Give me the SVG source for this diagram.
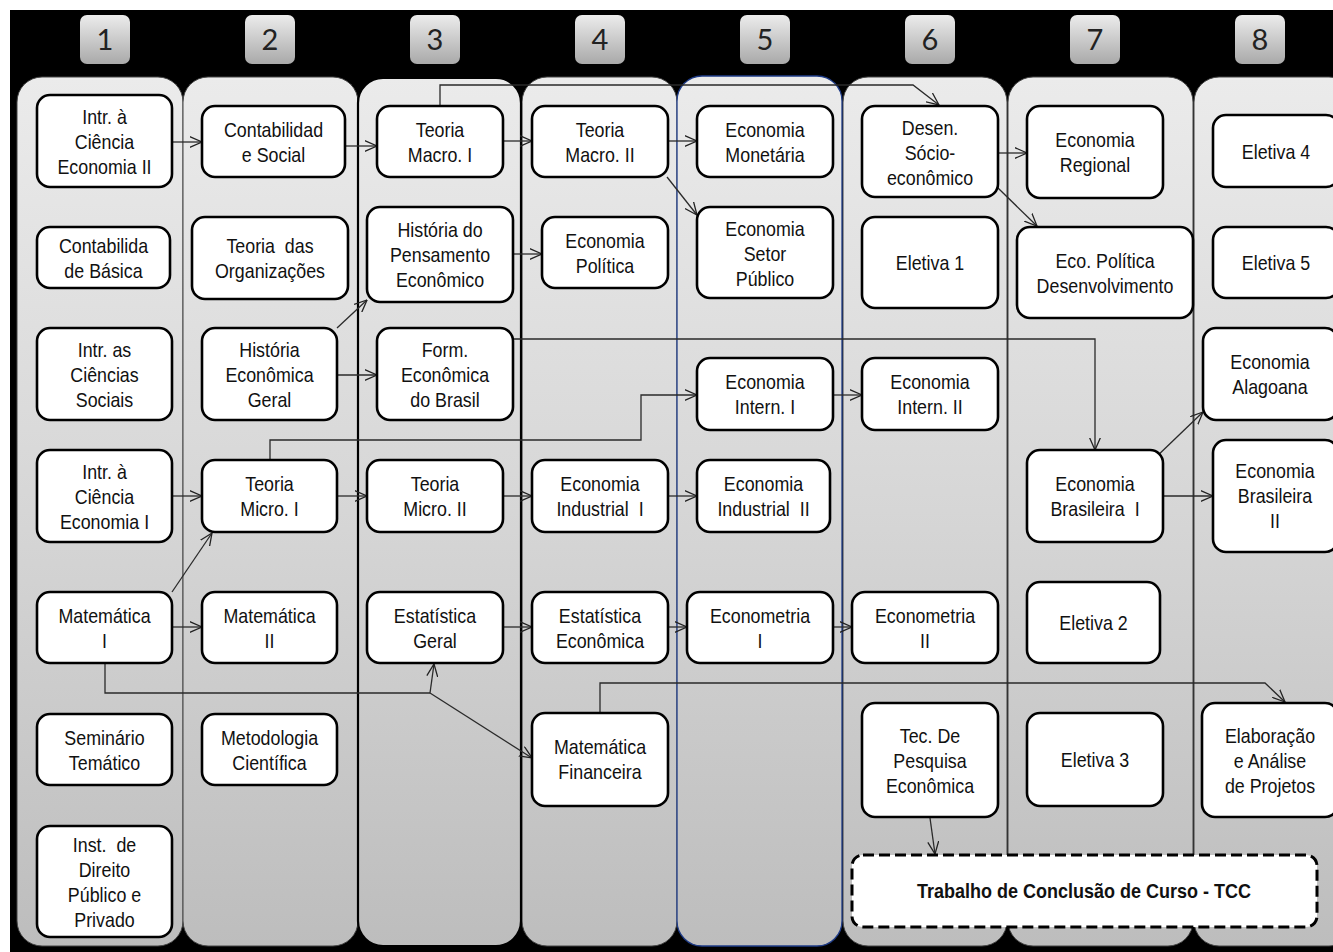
<svg xmlns="http://www.w3.org/2000/svg" width="1333" height="952" viewBox="0 0 1333 952">
<defs>
<linearGradient id="gPanel" x1="0" y1="0" x2="0" y2="1">
<stop offset="0" stop-color="#ebebeb"/>
<stop offset="0.5" stop-color="#d6d6d6"/>
<stop offset="1" stop-color="#bdbdbd"/>
</linearGradient>
<linearGradient id="gTab" x1="0" y1="0" x2="0" y2="1">
<stop offset="0" stop-color="#ececec"/>
<stop offset="1" stop-color="#a9a9a9"/>
</linearGradient>
<marker id="arr" markerUnits="userSpaceOnUse" viewBox="0 0 13 12" refX="12.5" refY="6" markerWidth="13" markerHeight="12" orient="auto">
<path d="M0,0.5 L12.5,6 L0,11.5" fill="none" stroke="#222" stroke-width="1.3"/>
</marker>
</defs>
<style>
.panel{fill:url(#gPanel);stroke:#444;stroke-width:1}
.p3{stroke:#000;stroke-width:2.2}
.p5{stroke:#1f3c88;stroke-width:1.3}
.tab{fill:url(#gTab)}
.tabt{font-family:Lato,"Open Sans",sans-serif;font-size:29px;fill:#222;text-anchor:middle}
.box{fill:#fff;stroke:#000;stroke-width:2.6}
.t{font-family:"Liberation Sans",Arial,sans-serif;font-size:21px;fill:#111;text-anchor:middle}
.tcc{fill:#fff;stroke:#000;stroke-width:3;stroke-dasharray:11 5}
.tb{font-family:"Liberation Sans",Arial,sans-serif;font-size:20px;font-weight:bold;fill:#111;text-anchor:middle}
.c{fill:none;stroke:#2a2a2a;stroke-width:1.3}
.ca{fill:none;stroke:#2a2a2a;stroke-width:1.3;marker-end:url(#arr)}
</style>
<rect x="0" y="0" width="1333" height="952" fill="#fff"/>
<rect x="10" y="10" width="1323" height="942" fill="#000"/>
<g id="tabs">
<rect class="tab" x="80" y="15" width="50" height="49" rx="7"/><text class="tabt" x="105" y="50">1</text>
<rect class="tab" x="245" y="15" width="50" height="49" rx="7"/><text class="tabt" x="270" y="50">2</text>
<rect class="tab" x="410" y="15" width="50" height="49" rx="7"/><text class="tabt" x="435" y="50">3</text>
<rect class="tab" x="575" y="15" width="50" height="49" rx="7"/><text class="tabt" x="600" y="50">4</text>
<rect class="tab" x="740" y="15" width="50" height="49" rx="7"/><text class="tabt" x="765" y="50">5</text>
<rect class="tab" x="905" y="15" width="50" height="49" rx="7"/><text class="tabt" x="930" y="50">6</text>
<rect class="tab" x="1070" y="15" width="50" height="49" rx="7"/><text class="tabt" x="1095" y="50">7</text>
<rect class="tab" x="1235" y="15" width="50" height="49" rx="7"/><text class="tabt" x="1260" y="50">8</text>
</g>
<g id="panels">
<rect class="panel" x="17" y="77" width="166" height="869" rx="25"/>
<rect class="panel" x="183" y="77" width="175" height="869" rx="25"/>
<rect class="panel" x="1008" y="77" width="185" height="869" rx="25"/>
<rect class="panel" x="1194" y="77" width="160" height="869" rx="25"/>
<rect class="panel" x="843" y="77" width="164" height="869" rx="25"/>
<rect class="panel" x="522" y="77" width="155" height="869" rx="25"/>
<rect class="panel p5" x="677" y="76" width="165" height="870" rx="25"/>
<rect class="panel p3" x="358" y="78" width="163" height="868" rx="25"/>
</g>
<g id="connectors">
<path class="ca" d="M172,142 L202,142"/>
<path class="ca" d="M345,146 L377,146"/>
<path class="ca" d="M503,141 L532,141"/>
<path class="ca" d="M668,141 L697,141"/>
<path class="ca" d="M667,177 L697,215"/>
<path class="ca" d="M440,106 L440,85 L913,85 L939,105"/>
<path class="ca" d="M998,153 L1027,153"/>
<path class="ca" d="M998,188 L1037,226"/>
<path class="ca" d="M513,254 L542,254"/>
<path class="ca" d="M337,328 L367,300"/>
<path class="ca" d="M337,375 L377,375"/>
<path class="ca" d="M513,339 L1095,339 L1095,450"/>
<path class="ca" d="M270,460 L270,440 L641,440 L641,395 L697,395"/>
<path class="ca" d="M833,395 L862,395"/>
<path class="ca" d="M172,496 L202,496"/>
<path class="ca" d="M172,592 L212,533"/>
<path class="ca" d="M337,496 L367,496"/>
<path class="ca" d="M503,496 L532,496"/>
<path class="ca" d="M668,496 L697,496"/>
<path class="ca" d="M1153,460 L1203,412"/>
<path class="ca" d="M1163,496 L1213,496"/>
<path class="ca" d="M172,627 L202,627"/>
<path class="ca" d="M503,627 L532,627"/>
<path class="ca" d="M668,627 L687,627"/>
<path class="ca" d="M833,627 L852,627"/>
<path class="c" d="M105,663 L105,693 L430,693"/>
<path class="ca" d="M430,693 L434,664"/>
<path class="ca" d="M430,693 L532,758"/>
<path class="ca" d="M600,713 L600,683 L1265,683 L1285,702"/>
<path class="ca" d="M930,818 L935,854"/>
</g>
<g id="n_intr_cien_eco2"><rect class="box" x="37" y="95" width="135" height="92" rx="13"/><g transform="translate(104.5,0) scale(0.85,1)"><text class="t" y="124">Intr. à</text><text class="t" y="149">Ciência</text><text class="t" y="174">Economia II</text></g></g>
<g id="n_contab_basica"><rect class="box" x="37" y="227" width="133" height="61" rx="13"/><g transform="translate(103.5,0) scale(0.85,1)"><text class="t" y="253">Contabilida</text><text class="t" y="278">de Básica</text></g></g>
<g id="n_intr_cien_sociais"><rect class="box" x="37" y="328" width="135" height="92" rx="13"/><g transform="translate(104.5,0) scale(0.85,1)"><text class="t" y="357">Intr. as</text><text class="t" y="382">Ciências</text><text class="t" y="407">Sociais</text></g></g>
<g id="n_intr_cien_eco1"><rect class="box" x="37" y="450" width="135" height="92" rx="13"/><g transform="translate(104.5,0) scale(0.85,1)"><text class="t" y="479">Intr. à</text><text class="t" y="504">Ciência</text><text class="t" y="529">Economia I</text></g></g>
<g id="n_mat1"><rect class="box" x="37" y="592" width="135" height="71" rx="13"/><g transform="translate(104.5,0) scale(0.85,1)"><text class="t" y="623">Matemática</text><text class="t" y="648">I</text></g></g>
<g id="n_seminario"><rect class="box" x="37" y="714" width="135" height="71" rx="13"/><g transform="translate(104.5,0) scale(0.85,1)"><text class="t" y="745">Seminário</text><text class="t" y="770">Temático</text></g></g>
<g id="n_inst_direito"><rect class="box" x="37" y="826" width="135" height="111" rx="13"/><g transform="translate(104.5,0) scale(0.85,1)"><text class="t" y="852" xml:space="preserve">Inst.  de</text><text class="t" y="877">Direito</text><text class="t" y="902">Público e</text><text class="t" y="927">Privado</text></g></g>
<g id="n_contab_social"><rect class="box" x="202" y="106" width="143" height="71" rx="13"/><g transform="translate(273.5,0) scale(0.85,1)"><text class="t" y="137">Contabilidad</text><text class="t" y="162">e Social</text></g></g>
<g id="n_teoria_org"><rect class="box" x="192" y="217" width="156" height="82" rx="13"/><g transform="translate(270,0) scale(0.85,1)"><text class="t" y="253" xml:space="preserve">Teoria  das</text><text class="t" y="278">Organizações</text></g></g>
<g id="n_hist_eco_geral"><rect class="box" x="202" y="328" width="135" height="92" rx="13"/><g transform="translate(269.5,0) scale(0.85,1)"><text class="t" y="357">História</text><text class="t" y="382">Econômica</text><text class="t" y="407">Geral</text></g></g>
<g id="n_micro1"><rect class="box" x="202" y="460" width="135" height="72" rx="13"/><g transform="translate(269.5,0) scale(0.85,1)"><text class="t" y="491">Teoria</text><text class="t" y="516">Micro. I</text></g></g>
<g id="n_mat2"><rect class="box" x="202" y="592" width="135" height="71" rx="13"/><g transform="translate(269.5,0) scale(0.85,1)"><text class="t" y="623">Matemática</text><text class="t" y="648">II</text></g></g>
<g id="n_metodologia"><rect class="box" x="202" y="714" width="135" height="71" rx="13"/><g transform="translate(269.5,0) scale(0.85,1)"><text class="t" y="745">Metodologia</text><text class="t" y="770">Científica</text></g></g>
<g id="n_macro1"><rect class="box" x="377" y="106" width="126" height="71" rx="13"/><g transform="translate(440,0) scale(0.85,1)"><text class="t" y="137">Teoria</text><text class="t" y="162">Macro. I</text></g></g>
<g id="n_hist_pens"><rect class="box" x="367" y="207" width="146" height="95" rx="13"/><g transform="translate(440,0) scale(0.85,1)"><text class="t" y="237">História do</text><text class="t" y="262">Pensamento</text><text class="t" y="287">Econômico</text></g></g>
<g id="n_form_eco"><rect class="box" x="377" y="328" width="136" height="92" rx="13"/><g transform="translate(445,0) scale(0.85,1)"><text class="t" y="357">Form.</text><text class="t" y="382">Econômica</text><text class="t" y="407">do Brasil</text></g></g>
<g id="n_micro2"><rect class="box" x="367" y="460" width="136" height="72" rx="13"/><g transform="translate(435,0) scale(0.85,1)"><text class="t" y="491">Teoria</text><text class="t" y="516">Micro. II</text></g></g>
<g id="n_estat_geral"><rect class="box" x="367" y="592" width="136" height="71" rx="13"/><g transform="translate(435,0) scale(0.85,1)"><text class="t" y="623">Estatística</text><text class="t" y="648">Geral</text></g></g>
<g id="n_macro2"><rect class="box" x="532" y="106" width="136" height="71" rx="13"/><g transform="translate(600,0) scale(0.85,1)"><text class="t" y="137">Teoria</text><text class="t" y="162">Macro. II</text></g></g>
<g id="n_eco_politica"><rect class="box" x="542" y="217" width="126" height="71" rx="13"/><g transform="translate(605,0) scale(0.85,1)"><text class="t" y="248">Economia</text><text class="t" y="273">Política</text></g></g>
<g id="n_eco_ind1"><rect class="box" x="532" y="460" width="136" height="72" rx="13"/><g transform="translate(600,0) scale(0.85,1)"><text class="t" y="491">Economia</text><text class="t" y="516" xml:space="preserve">Industrial  I</text></g></g>
<g id="n_estat_eco"><rect class="box" x="532" y="592" width="136" height="71" rx="13"/><g transform="translate(600,0) scale(0.85,1)"><text class="t" y="623">Estatística</text><text class="t" y="648">Econômica</text></g></g>
<g id="n_mat_fin"><rect class="box" x="532" y="713" width="136" height="93" rx="13"/><g transform="translate(600,0) scale(0.85,1)"><text class="t" y="754">Matemática</text><text class="t" y="779">Financeira</text></g></g>
<g id="n_eco_monetaria"><rect class="box" x="697" y="106" width="136" height="71" rx="13"/><g transform="translate(765,0) scale(0.85,1)"><text class="t" y="137">Economia</text><text class="t" y="162">Monetária</text></g></g>
<g id="n_eco_setor_pub"><rect class="box" x="697" y="207" width="136" height="91" rx="13"/><g transform="translate(765,0) scale(0.85,1)"><text class="t" y="236">Economia</text><text class="t" y="261">Setor</text><text class="t" y="286">Público</text></g></g>
<g id="n_eco_intern1"><rect class="box" x="697" y="358" width="136" height="72" rx="13"/><g transform="translate(765,0) scale(0.85,1)"><text class="t" y="389">Economia</text><text class="t" y="414">Intern. I</text></g></g>
<g id="n_eco_ind2"><rect class="box" x="697" y="460" width="133" height="72" rx="13"/><g transform="translate(763.5,0) scale(0.85,1)"><text class="t" y="491">Economia</text><text class="t" y="516" xml:space="preserve">Industrial  II</text></g></g>
<g id="n_econometria1"><rect class="box" x="687" y="592" width="146" height="71" rx="13"/><g transform="translate(760,0) scale(0.85,1)"><text class="t" y="623">Econometria</text><text class="t" y="648">I</text></g></g>
<g id="n_desen"><rect class="box" x="862" y="106" width="136" height="91" rx="13"/><g transform="translate(930,0) scale(0.85,1)"><text class="t" y="135">Desen.</text><text class="t" y="160">Sócio-</text><text class="t" y="185">econômico</text></g></g>
<g id="n_eletiva1"><rect class="box" x="862" y="217" width="136" height="91" rx="13"/><g transform="translate(930,0) scale(0.85,1)"><text class="t" y="270">Eletiva 1</text></g></g>
<g id="n_eco_intern2"><rect class="box" x="862" y="358" width="136" height="72" rx="13"/><g transform="translate(930,0) scale(0.85,1)"><text class="t" y="389">Economia</text><text class="t" y="414">Intern. II</text></g></g>
<g id="n_econometria2"><rect class="box" x="852" y="592" width="146" height="71" rx="13"/><g transform="translate(925,0) scale(0.85,1)"><text class="t" y="623">Econometria</text><text class="t" y="648">II</text></g></g>
<g id="n_tec_pesquisa"><rect class="box" x="862" y="703" width="136" height="114" rx="13"/><g transform="translate(930,0) scale(0.85,1)"><text class="t" y="743">Tec. De</text><text class="t" y="768">Pesquisa</text><text class="t" y="793">Econômica</text></g></g>
<g id="n_eco_regional"><rect class="box" x="1027" y="106" width="136" height="92" rx="13"/><g transform="translate(1095,0) scale(0.85,1)"><text class="t" y="147">Economia</text><text class="t" y="172">Regional</text></g></g>
<g id="n_eco_pol_desenv"><rect class="box" x="1017" y="227" width="176" height="91" rx="13"/><g transform="translate(1105,0) scale(0.85,1)"><text class="t" y="268">Eco. Política</text><text class="t" y="293">Desenvolvimento</text></g></g>
<g id="n_eco_bras1"><rect class="box" x="1027" y="450" width="136" height="92" rx="13"/><g transform="translate(1095,0) scale(0.85,1)"><text class="t" y="491">Economia</text><text class="t" y="516" xml:space="preserve">Brasileira  I</text></g></g>
<g id="n_eletiva2"><rect class="box" x="1027" y="582" width="133" height="81" rx="13"/><g transform="translate(1093.5,0) scale(0.85,1)"><text class="t" y="630">Eletiva 2</text></g></g>
<g id="n_eletiva3"><rect class="box" x="1027" y="713" width="136" height="93" rx="13"/><g transform="translate(1095,0) scale(0.85,1)"><text class="t" y="767">Eletiva 3</text></g></g>
<g id="n_eletiva4"><rect class="box" x="1213" y="115" width="126" height="72" rx="13"/><g transform="translate(1276,0) scale(0.85,1)"><text class="t" y="159">Eletiva 4</text></g></g>
<g id="n_eletiva5"><rect class="box" x="1213" y="227" width="126" height="71" rx="13"/><g transform="translate(1276,0) scale(0.85,1)"><text class="t" y="270">Eletiva 5</text></g></g>
<g id="n_eco_alagoana"><rect class="box" x="1203" y="328" width="135" height="92" rx="13"/><g transform="translate(1270,0) scale(0.85,1)"><text class="t" y="369">Economia</text><text class="t" y="394">Alagoana</text></g></g>
<g id="n_eco_bras2"><rect class="box" x="1213" y="440" width="125" height="112" rx="13"/><g transform="translate(1275,0) scale(0.85,1)"><text class="t" y="478">Economia</text><text class="t" y="503">Brasileira</text><text class="t" y="528">II</text></g></g>
<g id="n_elab_projetos"><rect class="box" x="1202" y="703" width="136" height="114" rx="13"/><g transform="translate(1270,0) scale(0.85,1)"><text class="t" y="743">Elaboração</text><text class="t" y="768">e Análise</text><text class="t" y="793">de Projetos</text></g></g>
<g id="n_tcc"><rect class="tcc" x="852" y="855" width="465" height="72" rx="11"/><g transform="translate(1084,0) scale(0.9,1)"><text class="tb" y="898">Trabalho de Conclusão de Curso - TCC</text></g></g>
</svg>
